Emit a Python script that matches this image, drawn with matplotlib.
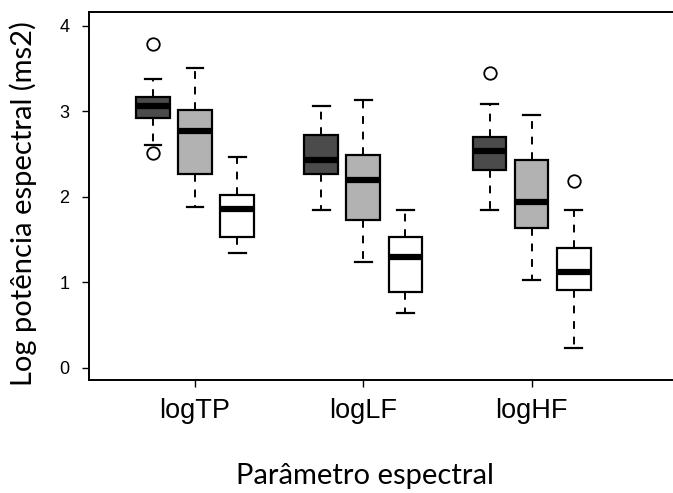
import matplotlib
matplotlib.use("Agg")
import matplotlib.pyplot as plt

params = ["logTP", "logLF", "logHF"]
groups = ["dark", "gray", "white"]
colors = ["#4b4b4b", "#b2b2b2", "#ffffff"]

# box stats per parameter, order: dark, gray, white
whislo = [[2.61, 1.88, 1.34], [1.85, 1.24, 0.64], [1.85, 1.02, 0.23]]
q1 = [[2.92, 2.27, 1.53], [2.26, 1.73, 0.88], [2.31, 1.63, 0.91]]
med = [[3.06, 2.77, 1.86], [2.43, 2.19, 1.30], [2.53, 1.94, 1.12]]
q3 = [[3.17, 3.01, 2.02], [2.72, 2.49, 1.53], [2.70, 2.43, 1.40]]
whishi = [[3.38, 3.51, 2.46], [3.06, 3.13, 1.85], [3.08, 2.95, 1.84]]
fliers = [[[3.78, 2.51], [], []], [[], [], []], [[3.45], [], [2.18]]]

fig = plt.figure(figsize=(6.73, 4.93), dpi=100)
ax = fig.add_axes([89/673, 1-380/493, 1-89/673, (380-12)/493])

offs = [-0.25, 0.0, 0.25]
for i in range(3):
    for j in range(3):
        st = [dict(whislo=whislo[i][j], q1=q1[i][j], med=med[i][j],
                   q3=q3[i][j], whishi=whishi[i][j], fliers=fliers[i][j])]
        ax.bxp(st, positions=[i + 1 + offs[j]], widths=0.2, patch_artist=True,
               manage_ticks=False,
               boxprops=dict(facecolor=colors[j], edgecolor="black", linewidth=1.6),
               medianprops=dict(color="black", linewidth=4.5, solid_capstyle="butt"),
               whiskerprops=dict(color="black", linewidth=1.4, linestyle=(0, (4, 4))),
               capprops=dict(color="black", linewidth=1.6),
               capwidths=0.1,
               flierprops=dict(marker="o", markerfacecolor="none",
                               markeredgecolor="black", markersize=9,
                               markeredgewidth=1.3))

ax.set_xlim(0.37, 3.84)
ax.set_ylim(-0.144, 4.16)
ax.set_xticks([1, 2, 3])
ax.set_xticklabels(params, family="Liberation Sans", fontsize=19.5)
ax.set_yticks([0, 1, 2, 3, 4])
ax.set_yticklabels(["0", "1", "2", "3", "4"], family="Liberation Sans", fontsize=13)
ax.tick_params(axis="y", length=5, width=1, pad=9)
ax.tick_params(axis="x", length=5, width=1, pad=8)
ax.spines["right"].set_visible(False)
for s in ["left", "top", "bottom"]:
    ax.spines[s].set_linewidth(1.4)

fig.text(23/673, 1-204/493, "Log potência espectral (ms2)", rotation=90,
         family="Lato", fontsize=21, ha="center", va="center")
fig.text(365/673, 1-476/493, "Parâmetro espectral",
         family="Lato", fontsize=21, ha="center", va="center")

fig.savefig("out.png", dpi=100)
